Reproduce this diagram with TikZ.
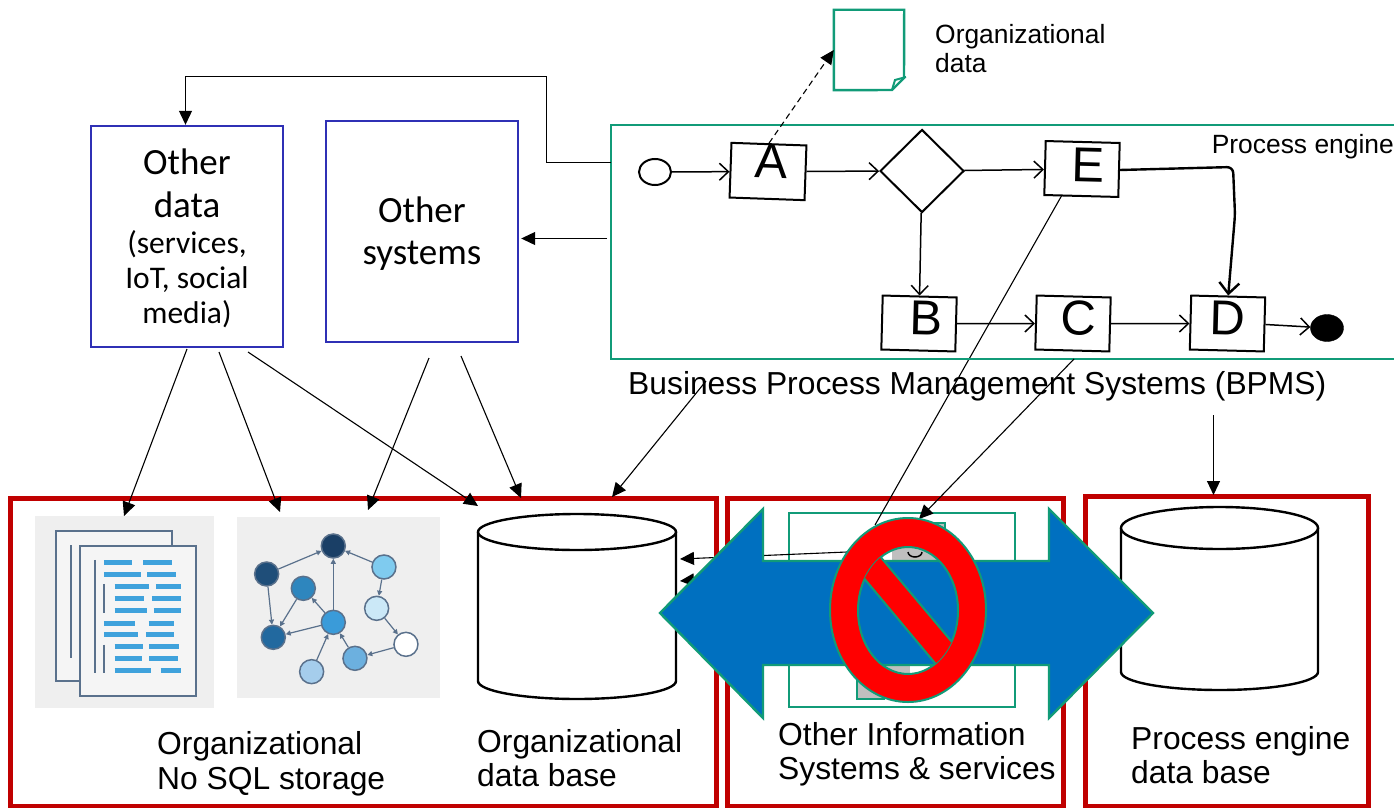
\documentclass[tikz,border=0pt]{standalone}
\usepackage{fontspec}
\setmainfont{Liberation Sans}
\newfontfamily\boxfont{Carlito}
\usetikzlibrary{arrows.meta,shapes.geometric,calc}
\definecolor{grn}{HTML}{119B78}
\definecolor{blu}{HTML}{2F30B5}
\definecolor{redb}{HTML}{C00000}
\definecolor{arrowblue}{HTML}{0070C0}
\definecolor{iconbg}{HTML}{EFEFEF}
\definecolor{iconline}{HTML}{5A718C}
\definecolor{iconbar}{HTML}{3FA2DC}
\newcommand{\tasktext}[3]{\raisebox{#2pt}{\hspace*{#1pt}#3}}
\tikzset{
  redbox/.style={draw=redb,line width=5pt},
  bluebox/.style={draw=blu,line width=2.4pt,fill=white,inner sep=0pt,align=center},
  conn/.style={line width=1.1pt,-{Triangle[length=14pt,width=13pt]}},
  hand/.style={line width=1.5pt,-{Straight Barb[length=9pt,width=17pt,line width=1.5pt]}},
  task/.style={draw,line width=2pt,inner sep=0pt,fill=white,minimum width=74pt,minimum height=54pt,font=\fontsize{49}{49}\selectfont},
  lab/.style={inner sep=0pt,anchor=west,align=left,font=\fontsize{31.8}{34.5}\selectfont},
  small/.style={inner sep=0pt,anchor=west,align=left,font=\fontsize{26.4}{29}\selectfont},
  cyl/.style={draw,line width=2.4pt,fill=white},
  gn/.style={circle,draw=iconline,line width=1.5pt,minimum size=24pt,inner sep=0pt},
  ge/.style={draw=iconline,line width=1.2pt,-{Triangle[length=5pt,width=5pt]}},
  bar/.style={draw=iconbar,line width=5pt},
  vbar/.style={draw=iconline,line width=1.8pt},
  pg/.style={draw=iconline,line width=1.8pt,fill=white!96!black},
  ghost/.style={inner sep=0pt},
  stopring/.style={draw=grn,line width=2pt,fill=red,even odd rule}
}
\begin{document}
\begin{tikzpicture}[x=1pt,y=-1pt]
\useasboundingbox (0,0) rectangle (1394,808);
\fill[white] (0,0) rectangle (1394,808);

% named free ends
\coordinate (bpmsA) at (611,162.5);
\coordinate (bpmsB) at (607,238.5);
\coordinate (k1) at (546.5,162.5);
\coordinate (k2) at (546.5,76.5);
\coordinate (k3) at (185.5,76.5);
\coordinate (odA) at (187,349);
\coordinate (odB) at (219,352);
\coordinate (odC) at (248,352);
\coordinate (osA) at (429,358);
\coordinate (osB) at (461,356);
\coordinate (docT) at (124,516);
\coordinate (grT1) at (280,512);
\coordinate (grT2) at (368,510);
\coordinate (dbT1) at (478,506);
\coordinate (dbT2) at (521,498);
\coordinate (dbT3) at (612,497);
\coordinate (lblB) at (706,381);
\coordinate (peA) at (1213.5,415);
\coordinate (peB) at (1213.5,495);
\coordinate (eB) at (1062,195);
\coordinate (stopA) at (875,525);
\coordinate (cB) at (1074,359);
\coordinate (isT) at (919,519);
\coordinate (isL) at (847,552);
\coordinate (isL2) at (770,574);
\coordinate (dbR1) at (680,559);
\coordinate (dbR2) at (680,581);

% storage frames
\draw[redbox] (10,498) rectangle (716,806);
\draw[redbox] (727,498) rectangle (1063,806);
\draw[redbox] (1085,496) rectangle (1368,806);

% document icon
\fill[iconbg] (35,516) rectangle (214,708);
\begin{scope}[shift={(0,490)},x=0.3333pt,y=-0.3333pt]
  \draw[pg] (167,122) rectangle (517,572);
  \draw[vbar] (212,165) -- (212,505);
  \draw[pg] (240,167) rectangle (588,617);
  \draw[vbar] (284,210) -- (284,550);
  \draw[vbar] (312,282) -- (312,368);
  \draw[vbar] (312,464) -- (312,550);
  \foreach \ya/\xa/\xb/\xc/\xd in {217/312/397/430/517,253/312/423/442/528,289/344/446/468/544,325/344/432/456/544,361/344/442/462/544,400/312/405/446/521,435/312/413/438/521,471/344/430/448/538,507/344/426/448/533,543/344/454/482/544}{
    \draw[bar] (\xa,\ya) -- (\xb,\ya);
    \draw[bar] (\xc,\ya) -- (\xd,\ya);
  }
\end{scope}

% graph icon
\fill[iconbg] (237,517) rectangle (440,698);
\begin{scope}[shift={(0,490)},x=0.3333pt,y=-0.3333pt]
  \node[gn,fill={rgb,255:red,26;green,63;blue,102}] (g1) at (1000,168) {};
  \node[gn,fill={rgb,255:red,31;green,78;blue,121}] (g2) at (800,252) {};
  \node[gn,fill={rgb,255:red,46;green,134;blue,190}] (g3) at (910,295) {};
  \node[gn,fill={rgb,255:red,127;green,203;blue,239}] (g4) at (1152,231) {};
  \node[gn,fill={rgb,255:red,203;green,232;blue,247}] (g5) at (1130,355) {};
  \node[gn,fill={rgb,255:red,58;green,155;blue,217}] (g6) at (1000,397) {};
  \node[gn,fill={rgb,255:red,34;green,105;blue,159}] (g7) at (820,442) {};
  \node[gn,fill=white] (g8) at (1218,463) {};
  \node[gn,fill={rgb,255:red,108;green,176;blue,223}] (g9) at (1065,505) {};
  \node[gn,fill={rgb,255:red,165;green,205;blue,236}] (g10) at (935,545) {};
  \draw[ge] (g2) -- (g1);
  \draw[ge] (g4) -- (g1);
  \draw[ge] (g6) -- (g1);
  \draw[ge] (g2) -- (g7);
  \draw[ge] (g3) -- (g7);
  \draw[ge] (g6) -- (g3);
  \draw[ge] (g6) -- (g7);
  \draw[ge] (g4) -- (g5);
  \draw[ge] (g5) -- (g8);
  \draw[ge] (g8) -- (g9);
  \draw[ge] (g9) -- (g6);
  \draw[ge] (g10) -- (g6);
\end{scope}

% databases
\draw[cyl] (478,532) -- (478,681) arc[start angle=180,end angle=360,x radius=99,y radius=-18] -- (676,532);
\draw[cyl] (577,532) ellipse[x radius=99,y radius=18];
\draw[cyl] (1121,528) -- (1121,672) arc[start angle=180,end angle=360,x radius=98.5,y radius=-18] -- (1318,528);
\draw[cyl] (1219.5,528) ellipse[x radius=98.5,y radius=21];

% other information systems (behind the arrow)
\draw[grn,line width=2.4pt] (789,513) rectangle (1015,707);
\fill[black!25] (892,524) rectangle (945,561);
\draw[grn,line width=2pt] (920,523) -- (945,523) -- (945,561);
\draw[line width=1.5pt] (908,552) arc[start angle=180,end angle=360,x radius=7,y radius=-5];
\fill[black!25] (857,665) rectangle (910,699);
\draw[grn,line width=2pt] (857,665) -- (857,699) -- (885,699);

% connectors behind the arrow
\draw[conn] (isL) -- (dbR1);
\draw[conn] (isL2) -- (dbR2);
\draw[line width=1.1pt] (eB) -- (stopA);

% blue systems
\node[bluebox,minimum width=192pt,minimum height=221pt] (od) at (187,236.5) {};
\node[inner sep=0pt,font=\boxfont\fontsize{37}{43}\selectfont,align=center] (odt) at (187,183.5) {Other\\data};
\node[inner sep=0pt,align=center,font=\boxfont\fontsize{31.5}{35}\selectfont] (ods) at (187,279.5) {(services,\\IoT, social\\media)};
\node[bluebox,minimum width=192pt,minimum height=221pt,font=\boxfont\fontsize{37}{43}\selectfont] (os) at (422,231.5) {\raisebox{-10pt}[0pt][0pt]{\begin{tabular}{@{}c@{}}Other\\[-1pt]systems\end{tabular}}};

% organizational data document
\node[ghost,minimum width=70pt,minimum height=80pt] (doc) at (869,50) {};
\draw[grn,line width=2.4pt,fill=white] (doc.north west) -- (doc.north east) -- (904,78) -- (892,90) -- (doc.south west) -- cycle;
\draw[grn,line width=2pt] (892,90) -- (895,80) -- (906,77);
\node[small] (doct) at (935,48.5) {Organizational\\data};

% process engine frame
\node[ghost,minimum width=783pt,minimum height=234pt] (bpms) at (1002.5,242) {};
\draw[grn,line width=2.4pt] (1394,125) -- (611,125) -- (611,359) -- (1394,359);
\node[small,anchor=east] (pe) at (1394,146.5) {Process engine};

% process model
\node[draw,ellipse,line width=2pt,minimum width=32pt,minimum height=26pt,inner sep=0pt] (start) at (655,172) {};
\node[task,minimum width=75pt,minimum height=54pt,rotate=-2] (A) at (768,171.5) {\tasktext{6}{21}{A}};
\node[draw,diamond,aspect=1,line width=2pt,minimum width=84pt,minimum height=83pt,inner sep=0pt] (gw) at (922,171) {};
\node[task,rotate=-1.5] (E) at (1082,169) {\tasktext{12}{9}{E}};
\node[task,rotate=-1.5] (B) at (919,323.5) {\tasktext{14}{11}{B}};
\node[task,rotate=-1.5] (C) at (1073,323.5) {\tasktext{10}{11}{C}};
\node[task,rotate=-1.5] (D) at (1227.5,323.5) {\tasktext{0}{11}{D}};
\node[draw,ellipse,fill=black,minimum width=33pt,minimum height=27pt,inner sep=0pt] (end) at (1327,328) {};
\draw[hand] (start) -- (A);
\draw[hand] (A) -- (gw);
\draw[hand] (gw) -- (E);
\draw[hand] (gw) -- (B);
\draw[hand] (B) -- (C);
\draw[hand] (C) -- (D);
\draw[hand] (D.east) -- (end);
\draw[line width=2.4pt,-{Straight Barb[length=11pt,width=20pt,line width=2.4pt]},rounded corners=6pt] (E.east) -- (1233,167) -- (1235,215) -- (D.north);
\draw[line width=1.1pt,dash pattern=on 6pt off 4pt,-{Triangle[length=14pt,width=13pt]}] (A.north) -- (doc.west);

% connectors
\draw[conn] (bpmsA) -- (k1) -- (k2) -- (k3) -- (k3 |- od.north);
\draw[conn] (bpmsB) -- ($(bpmsB -| os.east)+(2,0)$);
\draw[conn] (odA) -- (docT);
\draw[conn] (odB) -- (grT1);
\draw[conn] (odC) -- (dbT1);
\draw[conn] (osA) -- (grT2);
\draw[conn] (osB) -- (dbT2);
\draw[conn] (lblB) -- (dbT3);
\draw[conn] (peA) -- (peB);

% big arrow
\draw[grn,line width=2.4pt,fill=arrowblue] (660,613) -- (763,509) -- (763,561) -- (1049,561) -- (1049,509) -- (1153,613) -- (1049,718) -- (1049,665) -- (763,665) -- (763,718) -- cycle;

% connector tip that lands on the inner box
\draw[conn] (cB) -- (isT);

% prohibition sign
\path[stopring] (908,610) ellipse[x radius=78,y radius=92] (908,610.5) ellipse[x radius=50,y radius=63.5];
\begin{scope}
  \clip (908,610.5) ellipse[x radius=50,y radius=63.5];
  \draw[grn,line width=2pt,fill=red] (846.7,516.6) -- (986.7,683.4) -- (970,705) -- (830,537.6) -- cycle;
\end{scope}

% labels
\node[lab] (bpmsl) at (628,386.5) {Business Process Management Systems (BPMS)};
\node[lab] (l1) at (157,764) {Organizational\\No SQL storage};
\node[lab] (l2) at (477,758) {Organizational\\data base};
\node[lab] (l3) at (778,754.5) {Other Information\\Systems \& services};
\node[lab] (l4) at (1131,755) {Process engine\\data base};
\end{tikzpicture}
\end{document}
